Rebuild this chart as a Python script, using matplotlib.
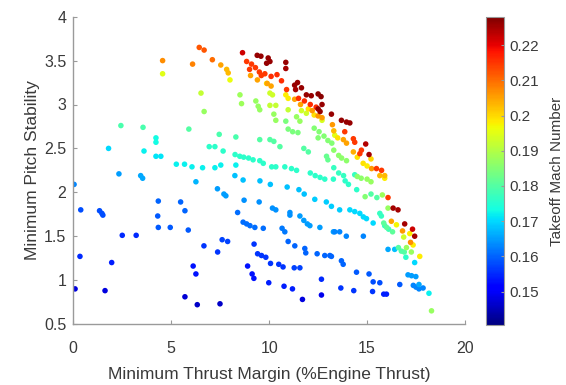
import matplotlib
matplotlib.use("Agg")
import matplotlib.pyplot as plt
import numpy as np

plt.rcParams['font.family'] = ['Liberation Sans', 'DejaVu Sans']

# (thrust margin %, pitch stability, takeoff Mach)
pts = [
    # dark blue
    (0.09,0.90,0.148),(1.62,0.88,0.148),(5.70,0.81,0.147),(6.33,0.72,0.146),(7.49,0.73,0.146),
    (11.7,0.78,0.148),(12.67,0.83,0.149),
    # blue
    (0.34,1.27,0.155),(1.96,1.20,0.154),(2.50,1.51,0.155),(3.21,1.51,0.155),(6.12,1.16,0.153),
    (6.26,1.07,0.153),(6.67,1.39,0.156),(7.37,1.32,0.156),(7.6,1.46,0.157),(7.88,1.44,0.157),
    (8.90,1.16,0.153),(9.13,1.07,0.153),(9.22,1.02,0.153),(9.98,0.97,0.154),(10.76,0.93,0.154),
    (11.19,0.90,0.154),(12.67,1.01,0.155),(9.23,1.41,0.156),(9.41,1.30,0.156),(9.61,1.28,0.156),
    (9.83,1.26,0.156),(10.07,1.19,0.156),(10.49,1.18,0.156),(10.71,1.15,0.156),(11.28,1.14,0.157),
    (11.57,1.14,0.157),(13.66,0.91,0.156),(14.32,0.88,0.156),(15.28,0.87,0.156),(15.85,0.84,0.154),
    (15.99,0.84,0.154),(13.18,1.27,0.160),(13.69,1.22,0.160),(13.78,1.18,0.160),(14.46,1.09,0.159),
    (15.1,1.07,0.159),(15.31,0.98,0.158),(15.65,0.97,0.158),(16.67,0.95,0.159),
    (0.38,1.80,0.158),(1.34,1.79,0.158),(1.46,1.76,0.158),(1.51,1.74,0.158),(4.34,1.90,0.160),
    (5.48,1.89,0.160),(5.70,1.79,0.160),(4.31,1.73,0.159),(4.34,1.60,0.159),(4.95,1.60,0.159),
    (5.87,1.57,0.159),(8.39,1.77,0.161),(8.67,1.66,0.161),(8.85,1.64,0.161),(9.02,1.62,0.161),
    (9.27,1.60,0.161),(9.70,1.59,0.161),(10.66,1.59,0.162),(10.80,1.55,0.162),(10.97,1.44,0.160),
    (11.31,1.39,0.160),(11.82,1.36,0.160),(11.87,1.31,0.160),(12.45,1.30,0.160),(12.84,1.28,0.160),
    (13.10,1.28,0.160),
    (0.04,2.09,0.163),(2.33,2.21,0.165),(3.44,2.19,0.166),(3.54,2.16,0.166),(7.36,2.04,0.165),
    (7.69,1.98,0.165),(7.79,1.96,0.165),(8.72,1.91,0.164),(9.49,1.89,0.164),(10.17,1.82,0.164),
    (10.34,1.80,0.164),(11.06,1.77,0.164),(11.06,1.74,0.164),(11.57,1.73,0.165),(11.77,1.68,0.165),
    (11.95,1.64,0.165),(12.08,1.62,0.165),(12.59,1.60,0.165),(13.28,1.55,0.165),(13.35,1.55,0.163),
    (13.6,1.55,0.163),(13.94,1.50,0.163),(14.81,1.50,0.163),(16.07,1.35,0.166),(17.09,1.06,0.165),
    (17.27,1.05,0.165),(17.49,1.04,0.165),(17.36,0.94,0.163),(17.5,0.92,0.163),(17.65,0.90,0.163),
    (17.86,0.91,0.163),(17.65,0.95,0.166),
    # light blue
    (6.26,2.12,0.167),(1.80,2.50,0.170),(3.61,2.47,0.172),(4.22,2.62,0.173),(4.22,2.57,0.173),
    (4.22,2.41,0.171),(4.47,2.41,0.171),(5.26,2.32,0.172),(5.68,2.32,0.172),(6.06,2.29,0.172),
    (6.60,2.28,0.172),(7.23,2.28,0.172),(7.53,2.31,0.172),(8.30,2.31,0.172),(8.25,2.19,0.168),
    (8.67,2.14,0.168),(9.53,2.13,0.168),(10.06,2.09,0.168),(10.92,2.06,0.168),(11.52,2.03,0.168),
    (11.79,1.98,0.168),(12.33,1.92,0.169),(12.92,1.89,0.169),(13.18,1.84,0.169),(13.6,1.80,0.169),
    (14.12,1.80,0.170),(14.37,1.78,0.170),(14.63,1.76,0.170),(14.81,1.72,0.170),(14.97,1.70,0.170),
    (15.31,1.65,0.170),(16.41,1.35,0.168),(17.43,1.20,0.170),(18.16,0.85,0.172),
    # cyan
    (6.94,2.52,0.176),(7.23,2.52,0.176),(7.65,2.47,0.176),(8.26,2.43,0.176),(8.5,2.41,0.176),
    (8.7,2.40,0.176),(8.95,2.39,0.176),(9.18,2.37,0.176),(9.52,2.36,0.176),(9.70,2.33,0.176),
    (10.13,2.29,0.176),(10.34,2.29,0.176),(10.8,2.29,0.176),(11.14,2.27,0.176),(11.4,2.25,0.176),
    (12.1,2.22,0.176),(12.35,2.19,0.176),(12.6,2.17,0.176),(12.84,2.15,0.176),(13.28,2.15,0.176),
    (13.88,2.13,0.176),(14.05,2.09,0.176),(14.47,2.03,0.176),(15.65,1.76,0.177),(15.73,1.73,0.177),
    (15.9,1.62,0.177),(16.1,1.58,0.178),(16.98,1.26,0.176),(13.3,2.28,0.177),(13.55,2.22,0.177),
    (13.8,2.19,0.177),(14.37,2.20,0.177),
    # cyan-green
    (2.43,2.76,0.179),(3.56,2.74,0.179),(5.90,2.72,0.180),(7.45,2.66,0.179),(8.30,2.63,0.179),
    (9.52,2.60,0.180),(10.04,2.60,0.180),(10.24,2.58,0.180),(10.55,2.52,0.180),(11.77,2.50,0.180),
    (12.0,2.46,0.180),(12.93,2.41,0.182),(13.0,2.37,0.182),(15.2,1.98,0.180),(15.5,1.94,0.180),
    (16.6,1.37,0.180),(16.75,1.33,0.180),(16.9,1.32,0.180),(15.85,1.65,0.181),(16.0,1.60,0.181),
    (16.3,1.55,0.181),
    # green
    (6.68,2.92,0.187),(8.51,3.11,0.188),(8.59,3.01,0.188),(9.32,3.04,0.187),(9.44,2.98,0.187),
    (9.52,2.94,0.187),(10.24,2.89,0.187),(10.34,2.82,0.187),(11.4,2.86,0.187),(11.57,2.81,0.187),
    (10.85,2.81,0.184),(10.97,2.72,0.184),(11.2,2.69,0.184),(11.47,2.68,0.184),(12.3,2.73,0.185),
    (12.55,2.69,0.185),(12.8,2.64,0.185),(13.0,2.59,0.185),(13.2,2.56,0.185),(12.5,2.62,0.185),
    (13.3,2.48,0.186),(13.55,2.42,0.186),(13.7,2.39,0.186),(13.95,2.36,0.186),(15.78,1.97,0.188),
    (16.07,1.82,0.187),(17.01,1.37,0.187),(17.26,1.32,0.187),(18.29,0.65,0.187),(14.5,2.18,0.186),
    (14.7,2.16,0.186),(15.0,2.15,0.187),(15.2,2.12,0.187),(14.9,1.95,0.185),
    # yellow-green
    (4.56,3.35,0.195),(6.52,3.13,0.192),(8.0,3.28,0.196),(10.04,3.13,0.193),(10.17,3.11,0.193),
    (10.04,2.99,0.192),(10.34,2.99,0.192),(10.97,2.94,0.192),(11.65,2.93,0.193),(11.9,2.90,0.193),
    (16.87,1.49,0.193),(12.7,2.82,0.194),(13.35,2.65,0.195),
    # yellow
    (9.87,3.24,0.198),(10.85,3.11,0.198),(10.97,3.07,0.198),(12.0,2.95,0.199),(12.3,2.88,0.199),
    (13.5,2.62,0.199),(14.5,2.40,0.199),(14.8,2.33,0.199),(15.0,2.30,0.198),(15.9,2.16,0.198),
    (16.5,1.63,0.197),(17.18,1.53,0.198),(17.35,1.40,0.198),(17.69,1.27,0.198),(15.2,2.38,0.200),
    # orange
    (4.56,3.50,0.207),(6.09,3.46,0.208),(7.53,3.45,0.205),(7.83,3.40,0.203),(7.91,3.36,0.203),
    (9.05,3.33,0.205),(9.4,3.28,0.205),(9.9,3.24,0.205),(10.1,3.21,0.205),(11.3,3.06,0.205),
    (11.6,3.00,0.205),(12.2,2.93,0.206),(12.5,2.87,0.206),(12.7,2.85,0.206),(13.23,2.77,0.206),
    (13.79,2.60,0.205),(13.95,2.56,0.205),(14.3,2.46,0.204),(15.23,2.27,0.206),(15.65,2.19,0.203),
    (15.9,2.19,0.203),(16.24,1.67,0.205),(16.81,1.56,0.206),(17.22,1.43,0.207),(13.3,2.70,0.203),
    # red
    (6.43,3.65,0.212),(6.68,3.62,0.212),(7.1,3.51,0.210),(8.85,3.49,0.215),(9.0,3.40,0.215),
    (9.1,3.46,0.215),(9.3,3.42,0.215),(9.5,3.37,0.215),(9.6,3.33,0.215),(9.78,3.35,0.215),
    (10.1,3.32,0.216),(10.4,3.34,0.216),(10.63,3.27,0.216),(10.89,3.17,0.215),(11.5,3.07,0.216),
    (11.8,3.04,0.216),(12.1,3.00,0.216),(12.4,2.97,0.216),(13.86,2.69,0.215),(14.3,2.61,0.215),
    (14.37,2.57,0.215),(14.71,2.48,0.215),(14.63,2.44,0.215),(15.48,2.27,0.215),(15.74,2.25,0.215),
    (16.07,1.94,0.215),
    # dark red
    (8.64,3.59,0.222),(9.39,3.56,0.226),(9.58,3.55,0.226),(9.95,3.53,0.226),(10.04,3.49,0.226),
    (9.87,3.47,0.226),(10.85,3.48,0.226),(10.85,3.41,0.225),(11.3,3.22,0.226),(11.45,3.25,0.226),
    (11.65,3.19,0.226),(11.35,3.17,0.225),(11.9,3.11,0.226),(12.15,3.10,0.226),(12.5,3.12,0.227),
    (12.65,3.09,0.227),(12.7,3.00,0.226),(12.5,2.95,0.226),(12.6,2.92,0.226),(13.18,2.89,0.226),
    (13.69,2.82,0.226),(13.95,2.80,0.226),(14.12,2.79,0.226),(14.93,2.55,0.224),(15.1,2.43,0.225),
    (16.33,1.82,0.225),(16.58,1.80,0.225),(16.92,1.64,0.225),(17.32,1.58,0.222),(17.43,1.50,0.225),
]
thrust_margin = [p[0] for p in pts]
pitch_stability = [p[1] for p in pts]
mach_number = [p[2] for p in pts]

x_ticks = [0, 5, 10, 15, 20]
y_ticks = [0.5, 1, 1.5, 2, 2.5, 3, 3.5, 4]
y_tick_labels = ['0.5', '1', '1.5', '2', '2.5', '3', '3.5', '4']
cb_ticks = [0.15, 0.16, 0.17, 0.18, 0.19, 0.2, 0.21, 0.22]
cb_tick_labels = ['0.15', '0.16', '0.17', '0.18', '0.19', '0.2', '0.21', '0.22']

W, H = 566, 385
fig = plt.figure(figsize=(W/100, H/100), dpi=100)
ax = fig.add_axes([73.3/W, 1-324/H, (465-73.3)/W, (324-16.7)/H])
cax = fig.add_axes([486/W, 1-325/H, 18/W, (325-17)/H])

txt = '#3a3a3a'
spc = '#9a9a9a'
sc = ax.scatter(thrust_margin, pitch_stability, c=mach_number, cmap='jet',
                vmin=0.1405, vmax=0.228, s=16, linewidths=0)
ax.set_xlim(0, 20)
ax.set_ylim(0.5, 4)
ax.set_xticks(x_ticks)
ax.set_yticks(y_ticks)
ax.set_yticklabels(y_tick_labels)
for s in ['top', 'right']:
    ax.spines[s].set_visible(False)
for s in ['left', 'bottom']:
    ax.spines[s].set_color(spc)
    ax.spines[s].set_linewidth(1.0)
ax.tick_params(direction='in', length=3, color=spc, labelsize=11.5, labelcolor=txt)
ax.tick_params(axis='x', pad=12)
ax.tick_params(axis='y', pad=5)
ax.set_xlabel('Minimum Thrust Margin (%Engine Thrust)', fontsize=12.5, color=txt, labelpad=8)
ax.set_ylabel('Minimum Pitch Stability', fontsize=12.5, color=txt, labelpad=3)

cb = fig.colorbar(sc, cax=cax)
cb.set_ticks(cb_ticks)
cb.set_ticklabels(cb_tick_labels)
cb.outline.set_edgecolor(spc)
cb.outline.set_linewidth(0.8)
cax.tick_params(direction='in', length=2, color=spc, labelsize=11, labelcolor=txt, pad=4)
cb.set_label('Takeoff Mach Number', fontsize=11, color=txt, labelpad=8)

fig.savefig('out.png', dpi=100)
